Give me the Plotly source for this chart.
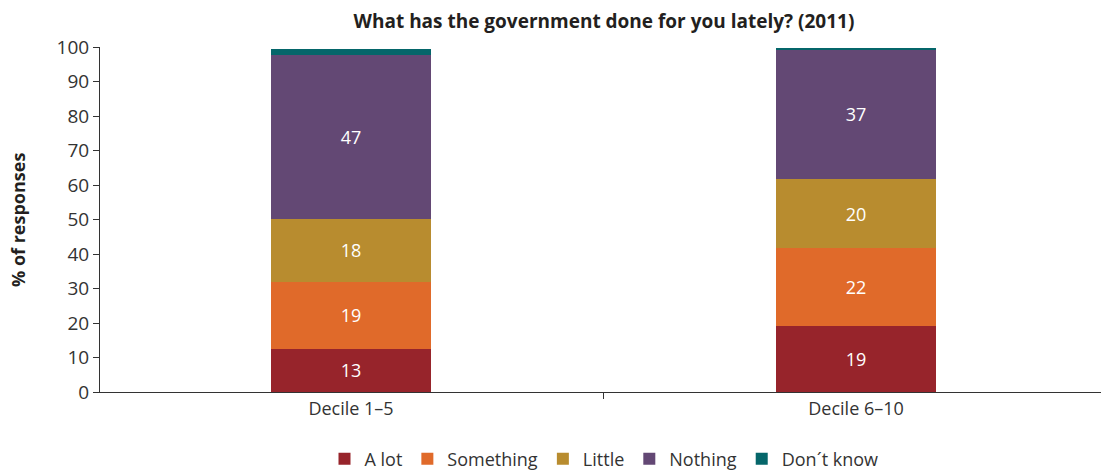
import plotly.graph_objects as go

categories = ["Decile 1–5", "Decile 6–10"]
series_names = ["A lot", "Something", "Little", "Nothing", "Don´t know"]
a_lot = [12.6, 19.2]
something = [19.4, 22.4]
little = [18.2, 20.2]
nothing = [47.4, 37.4]
dont_know = [1.7, 0.6]
colors = ["#97242B", "#E06A2A", "#B88C2F", "#634874", "#05666A"]
y_ticks = [0, 10, 20, 30, 40, 50, 60, 70, 80, 90, 100]

FONT = "Open Sans"
fig = go.Figure()
for name, vals, col in zip(series_names, [a_lot, something, little, nothing, dont_know], colors):
    show_text = name != "Don´t know"
    fig.add_trace(go.Bar(
        name=name, x=categories, y=vals, marker=dict(color=col, line=dict(width=0)),
        width=0.317,
        texttemplate="%{y:.0f}" if show_text else None,
        textposition="inside" if show_text else "none",
        insidetextanchor="middle",
        textfont=dict(color="white", size=18, family=FONT),
    ))

L, R, T, B = 100, 0, 47, 81
W, H = 1101, 473
pw = W - L - R
ph = H - T - B

fig.update_layout(
    barmode="stack",
    width=W, height=H,
    margin=dict(l=L, r=R, t=T, b=B, autoexpand=False),
    plot_bgcolor="white", paper_bgcolor="white",
    font=dict(family=FONT, color="#333333"),
    title=dict(text="<b>What has the government done for you lately? (2011)</b>",
               x=(604) / W, xanchor="center", y=1 - 21 / H, yanchor="middle",
               font=dict(size=19, color="#231f20", family=FONT)),
    legend=dict(orientation="h", x=(604 - L) / pw, xanchor="center",
                y=-(459 - (T + ph)) / ph, yanchor="middle",
                font=dict(size=18, color="#333333", family=FONT),
                traceorder="normal", itemwidth=30),
    showlegend=True,
    annotations=[dict(text="<b>% of responses</b>", xref="paper", yref="paper",
                      x=(18 - L) / pw, y=(392 - 220) / ph, xanchor="center", yanchor="middle",
                      textangle=-90, showarrow=False,
                      font=dict(size=18, color="#231f20", family=FONT))],
)
fig.update_xaxes(
    range=[-0.497, 1.485], showline=True, linecolor="#333333", linewidth=1,
    ticks="outside", tickson="boundaries", ticklen=6, tickcolor="#333333",
    tickfont=dict(size=18, color="#333333", family=FONT), showgrid=False, automargin=False,
)
fig.update_yaxes(
    range=[0, 100], tickvals=y_ticks, showline=True, linecolor="#333333", linewidth=1,
    ticks="outside", ticklen=6, tickcolor="#333333", showgrid=False, zeroline=False,
    tickfont=dict(size=19, color="#333333", family=FONT), automargin=False,
)
fig.write_html("out.html", config={"displayModeBar": False},
               post_script="document.body.style.margin='0';document.body.style.overflow='hidden';")
